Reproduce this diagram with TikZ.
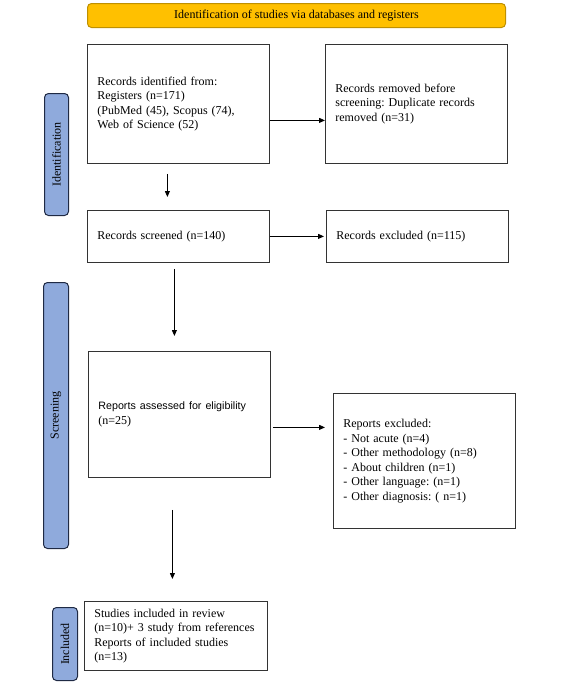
\documentclass[tikz,border=0pt]{standalone}
\usepackage{fontspec}
\setmainfont{Liberation Serif}
\newfontfamily\arialfont{Liberation Sans}
\usetikzlibrary{arrows.meta}
\definecolor{titlefill}{HTML}{FFC000}
\definecolor{titledraw}{HTML}{BF9000}
\definecolor{labfill}{HTML}{8FAADC}
\definecolor{labdraw}{HTML}{1F2A44}
\frenchspacing
\begin{document}
\begin{tikzpicture}[x=1pt,y=-1pt,
  font=\fontsize{12}{14.5}\selectfont,
  box/.style={draw=black!80, line width=0.8pt, fill=white, anchor=north west, align=left, inner xsep=10pt, inner ysep=0pt},
  lab/.style={draw=labdraw, fill=labfill, line width=1pt, rounded corners=4pt, anchor=north west, inner sep=0pt},
  arr/.style={-{Triangle[length=6pt,width=5pt]}, line width=0.8pt}]
\useasboundingbox (0,0) rectangle (566,686);
% title
\node[draw=titledraw, fill=titlefill, line width=1pt, rounded corners=4pt, anchor=north west, minimum width=418pt, minimum height=24pt, inner sep=0pt] (title) at (87,3) {Identification of studies via databases and registers};
% side labels
\node[lab, minimum width=24pt, minimum height=122pt] (lid) at (44,93) {};
\node[rotate=90] at (lid.center) {Identification};
\node[lab, minimum width=25pt, minimum height=266pt] (lsc) at (43,282) {};
\node[rotate=90] at (lsc.center) {Screening};
\node[lab, minimum width=25pt, minimum height=73pt] (lin) at (52,607) {};
\node[rotate=90] at (lin.center) {Included};
% boxes
\node[box, text width=162pt, minimum height=119pt] (b1) at (87,44) {Records identified from:\\Registers (n=171)\\(PubMed (45), Scopus (74),\\Web of Science (52)};
\node[box, text width=162pt, minimum height=119pt] (b2) at (325,44) {Records removed before\\screening: Duplicate records\\removed (n=31)\\[2pt]};
\node[box, text width=162pt, minimum height=52pt] (b3) at (87,210) {Records screened (n=140)};
\node[box, text width=162pt, minimum height=52pt] (b4) at (326,210) {Records excluded (n=115)};
\node[box, text width=162pt, minimum height=126pt] (b5) at (88,351) {{\arialfont\fontsize{10.7}{12}\selectfont Reports assessed for eligibility}\\(n=25)};
\node[box, text width=162pt, minimum height=135pt] (b6) at (333,393) {Reports excluded:\\- Not acute (n=4)\\- Other methodology (n=8)\\- About children (n=1)\\- Other language: (n=1)\\- Other diagnosis: ( n=1)};
\node[box, text width=163pt, minimum height=69pt] (b7) at (84,601) {Studies included in review\\(n=10)+ 3 study from references\\Reports of included studies\\(n=13)};
% arrows
\draw[arr] ([yshift=-16.5pt]b1.east) -- ([yshift=-16.5pt]b2.west);
\draw[arr] ([xshift=-11pt,yshift=-10pt]b1.south) -- ([xshift=-11pt,yshift=13pt]b3.north);
\draw[arr] (b3.east) -- ([xshift=-2pt]b4.west);
\draw[arr] ([xshift=-4pt,yshift=-6pt]b3.south) -- ([xshift=-5pt,yshift=15pt]b5.north);
\draw[arr] ([xshift=2pt,yshift=-13pt]b5.east) -- ([xshift=-8pt,yshift=33.5pt]b6.west);
\draw[arr] ([xshift=-7pt,yshift=-32pt]b5.south) -- ([xshift=-3.5pt,yshift=22pt]b7.north);
\end{tikzpicture}
\end{document}
